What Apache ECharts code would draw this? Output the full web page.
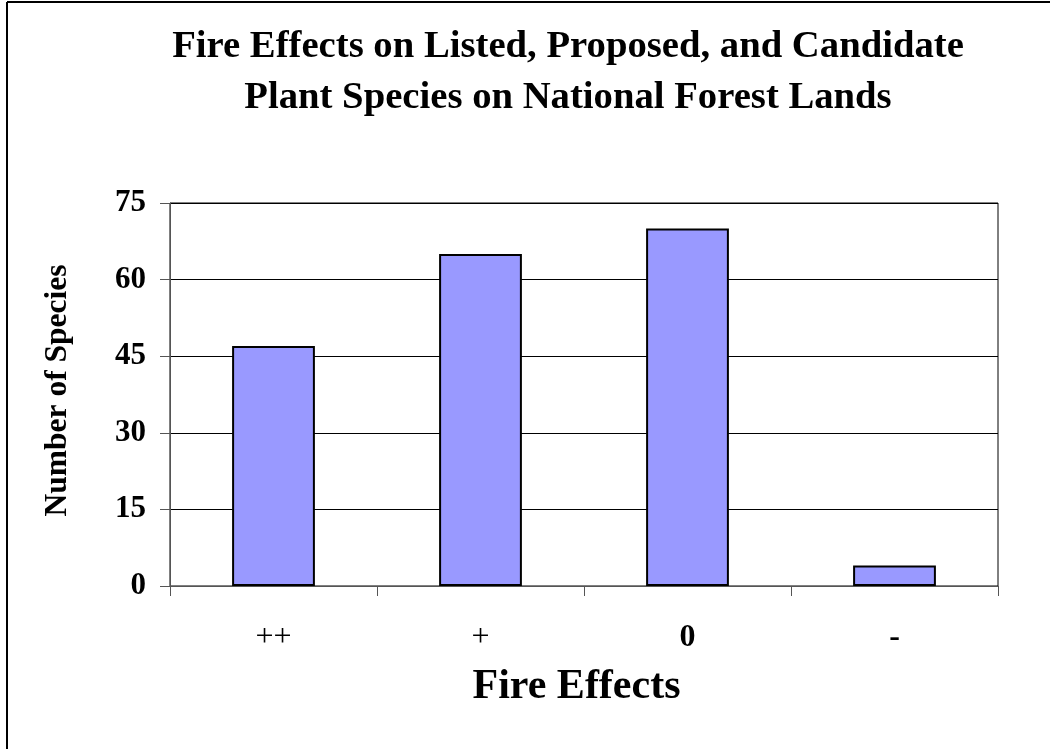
<!DOCTYPE html>
<html>
<head>
<meta charset="utf-8">
<script src="https://cdn.jsdelivr.net/npm/echarts@6/dist/echarts.min.js"></script>
<style>
html,body{margin:0;padding:0;background:#fff;}
#chart{width:1050px;height:749px;}
</style>
</head>
<body>
<div id="chart"></div>
<script>
var titleLines = ['Fire Effects on Listed, Proposed, and Candidate', 'Plant Species on National Forest Lands'];
var categories = ['++', '+', '0', '-'];
var values = [47, 65, 70, 4];
var yTicks = [0, 15, 30, 45, 60, 75];
var xAxisName = 'Fire Effects';
var yAxisName = 'Number of Species';

var SERIF = '"Liberation Serif", "Times New Roman", serif';
var chart = echarts.init(document.getElementById('chart'), null, {renderer: 'canvas'});
var option = {
  backgroundColor: '#fff',
  animation: false,
  title: {
    text: titleLines.join('\n'),
    left: 563,
    textAlign: 'center',
    top: 17,
    textStyle: {fontFamily: SERIF, fontWeight: 'bold', fontSize: 38.7, lineHeight: 51, color: '#000'}
  },
  graphic: [
    {type: 'line', shape: {x1: 7, y1: 2, x2: 7, y2: 749}, style: {stroke: '#000', lineWidth: 2}},
    {type: 'line', shape: {x1: 7, y1: 2, x2: 1050, y2: 2}, style: {stroke: '#000', lineWidth: 2}}
  ],
  grid: {left: 170, right: 52, top: 203, bottom: 163, show: true, borderColor: '#000', borderWidth: 1, backgroundColor: '#fff'},
  xAxis: {
    type: 'category',
    data: categories,
    name: xAxisName,
    nameLocation: 'middle',
    nameGap: 80,
    nameTextStyle: {fontFamily: SERIF, fontWeight: 'bold', fontSize: 42, color: '#000', padding: [0, 15, 0, 0]},
    axisLine: {lineStyle: {color: '#555', width: 1}},
    axisTick: {show: true, length: 10, lineStyle: {color: '#555'}},
    axisLabel: {
      margin: 36,
      formatter: function (v) { return (v === '++' || v === '+') ? '{r|' + v + '}' : '{b|' + v + '}'; },
      rich: {
        r: {fontFamily: SERIF, fontWeight: 'normal', fontSize: 32, color: '#000'},
        b: {fontFamily: SERIF, fontWeight: 'bold', fontSize: 32, color: '#000'}
      }
    }
  },
  yAxis: {
    type: 'value',
    min: yTicks[0],
    max: yTicks[yTicks.length - 1],
    interval: yTicks[1] - yTicks[0],
    name: yAxisName,
    nameLocation: 'middle',
    nameGap: 96,
    nameTextStyle: {fontFamily: SERIF, fontWeight: 'bold', fontSize: 31.5, color: '#000', padding: [0, 0, 0, 8]},
    axisLine: {show: true, lineStyle: {color: '#555', width: 1}},
    axisTick: {show: true, length: 10, lineStyle: {color: '#555'}},
    axisLabel: {margin: 24, fontFamily: SERIF, fontWeight: 'bold', fontSize: 31, color: '#000'},
    splitLine: {show: true, lineStyle: {color: '#000', width: 1}}
  },
  series: [{
    type: 'bar',
    data: values,
    barWidth: '40%',
    itemStyle: {color: '#9999FF', borderColor: '#000', borderWidth: 2}
  }]
};
chart.setOption(option);
</script>
</body>
</html>
